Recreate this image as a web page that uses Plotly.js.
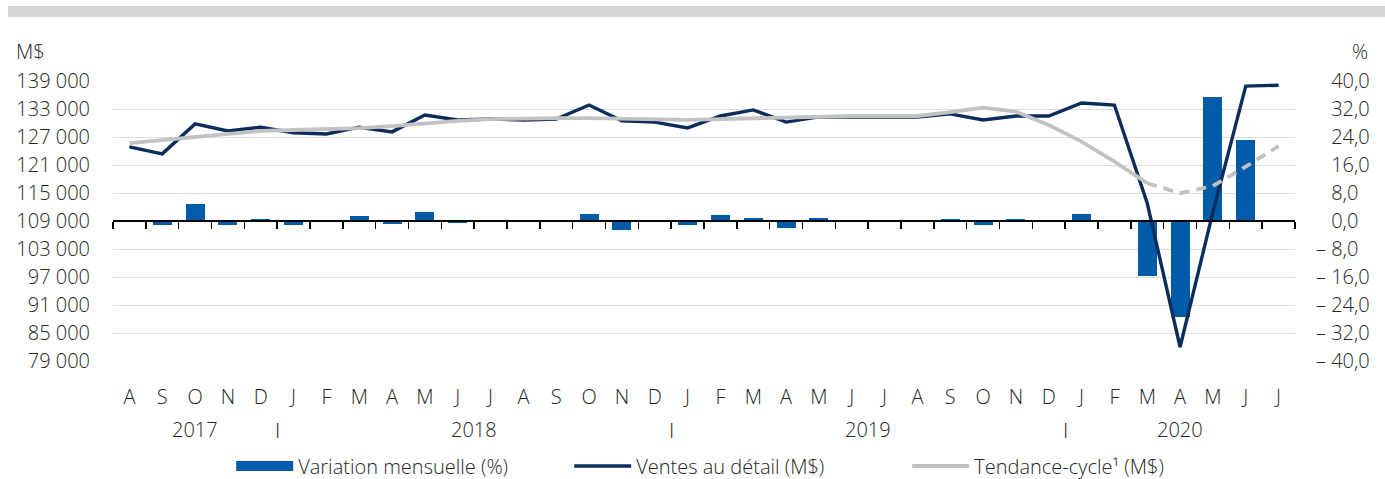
<!DOCTYPE html>
<html>
<head>
<meta charset="utf-8">
<script src="https://cdn.plot.ly/plotly-3.0.1.min.js"></script>
<style>html,body{margin:0;padding:0;background:#fff;}#chart{width:1385px;height:479px;}</style>
</head>
<body>
<div id="chart"></div>
<script>
// Month labels, Aug 2017 to Jul 2020
const months = ['A','S','O','N','D',
  'J','F','M','A','M','J','J','A','S','O','N','D',
  'J','F','M','A','M','J','J','A','S','O','N','D',
  'J','F','M','A','M','J','J'];

// Retail sales (M$)
const ventes = [124900,123400,129800,128300,129100,
  127900,127650,129100,128100,131700,130650,130850,130650,130850,133850,130450,130200,
  128950,131500,132800,130200,131300,131300,131300,131300,131950,130650,131500,131500,
  134300,133850,112800,82000,110900,137900,138100];

// Trend-cycle (M$); last points (from March 2020) are provisional (dashed)
const tendance = [125700,126350,127200,127850,128300,
  128500,128700,128900,129350,130000,130450,130850,131050,131050,131050,130850,130850,
  130650,130850,131050,131300,131300,131500,131500,131500,132350,133300,132450,129550,
  126000,121700,117100,114950,116500,120650,125050];
const firstProvisional = 31;

// Monthly change (%)
const variation = [null,-1.2,4.9,-1.1,0.7,
  -1.0,-0.1,1.3,-0.9,2.6,-0.7,0,0,0,2.1,-2.6,-0.2,
  -1.1,1.8,0.9,-2.0,0.8,0,0,0,0.6,-1.0,0.6,0,
  2.0,-0.2,-15.7,-27.5,35.4,23.1,0];

// Year groups
const years = ['2017','2018','2019','2020'];
const yearStart = [0,5,17,29];
const yearEnd = [4,16,28,35];

// Axis ticks
const leftTicks = [79000,85000,91000,97000,103000,109000,115000,121000,127000,133000,139000];
const rightTicks = [-40,-32,-24,-16,-8,0,8,16,24,32,40];

const idx = months.map((m,i)=>i);
const bounds = idx.map(i=>i-0.5).concat([months.length-0.5]);

const fmtLeft = v => String(v).replace(/\B(?=(\d{3})+(?!\d))/g,'\u00a0');
const fmtRight = v => v < 0 ? '\u2013\u00a0' + Math.abs(v).toFixed(1).replace('.',',')
                            : '\u2002\u00a0' + v.toFixed(1).replace('.',',');

const barColor = '#005ba8';
const navy = '#0c2d5c';
const grey = '#c2c2c2';

const traces = [
  {type:'bar', x:idx, y:variation, xaxis:'x', yaxis:'y', marker:{color:barColor}, width:0.58, showlegend:false, hoverinfo:'skip'},
  {type:'scatter', mode:'lines', x:[null], y:[null], xaxis:'x', yaxis:'y', name:'Variation mensuelle (%)', line:{color:barColor, width:16}},
  {type:'scatter', mode:'lines', x:idx, y:ventes, xaxis:'x', yaxis:'y2', name:'Ventes au détail (M$)', line:{color:navy, width:3.4}},
  {type:'scatter', mode:'lines', x:idx.slice(0,firstProvisional+1), y:tendance.slice(0,firstProvisional+1), xaxis:'x', yaxis:'y2', name:'Tendance-cycle¹ (M$)', line:{color:grey, width:3.8}},
  {type:'scatter', mode:'lines', x:idx.slice(firstProvisional), y:tendance.slice(firstProvisional), xaxis:'x', yaxis:'y2', showlegend:false, line:{color:grey, width:3.8, dash:'10px,7px'}},
  {type:'scatter', mode:'lines', x:[null], y:[null], xaxis:'x2', yaxis:'y', showlegend:false, hoverinfo:'skip'}
];

const annotations = [];
years.forEach((y,i)=>{
  annotations.push({text:y, xref:'x', yref:'paper', x:(yearStart[i]+yearEnd[i])/2, y:-0.246, showarrow:false, xanchor:'center', yanchor:'middle', font:{size:20}});
  if(i>0) annotations.push({text:'I', xref:'x', yref:'paper', x:yearStart[i]-0.5, y:-0.246, showarrow:false, xanchor:'center', yanchor:'middle', font:{size:21}});
});
annotations.push({text:'M$', xref:'paper', yref:'paper', x:-0.0838, y:1.1036, showarrow:false, xanchor:'left', yanchor:'middle', font:{size:20}});
annotations.push({text:'%', xref:'paper', yref:'paper', x:1.055, y:1.1036, showarrow:false, xanchor:'center', yanchor:'middle', font:{size:20}});

const layout = {
  width:1385, height:479,
  margin:{l:113, r:90, t:81, b:118, autoexpand:false},
  paper_bgcolor:'#fff', plot_bgcolor:'#fff',
  font:{family:'"Open Sans", "DejaVu Sans", sans-serif', size:20, color:'#262626', weight:300},
  hovermode:false,
  bargap:0,
  xaxis:{range:[-0.5, months.length-0.5], tickmode:'array', tickvals:idx, ticktext:months, showgrid:false, zeroline:false, showline:false, ticks:'', ticklabelstandoff:22, fixedrange:true, automargin:false},
  xaxis2:{overlaying:'x', anchor:'free', position:0.5, range:[-0.5, months.length-0.5], tickmode:'array', tickvals:bounds, showticklabels:false, ticks:'outside', ticklen:7, tickwidth:1.5, tickcolor:'#000', showline:true, linecolor:'#000', linewidth:2, showgrid:false, zeroline:false, automargin:false},
  yaxis:{side:'right', range:[-40,40], tickmode:'array', tickvals:rightTicks, ticktext:rightTicks.map(fmtRight), showgrid:true, gridcolor:'#dedede', gridwidth:1, zeroline:false, ticks:'', ticklabelstandoff:20, showline:false, automargin:false},
  yaxis2:{overlaying:'y', side:'left', range:[79000,139000], tickmode:'array', tickvals:leftTicks, ticktext:leftTicks.map(fmtLeft), showgrid:false, zeroline:false, ticks:'', ticklabelstandoff:22, showline:false, automargin:false},
  legend:{orientation:'h', x:0.1, xanchor:'left', y:-0.375, yanchor:'middle', itemwidth:57, entrywidth:266, font:{size:20}, traceorder:'normal', bgcolor:'rgba(0,0,0,0)'},
  shapes:[{type:'rect', xref:'paper', yref:'paper', x0:-0.0888, x1:1.08, y0:1.2286, y1:1.268, fillcolor:'#d4d5d5', line:{width:0}, layer:'above'}],
  annotations:annotations
};

Plotly.newPlot('chart', traces, layout, {staticPlot:true, displayModeBar:false});
</script>
</body>
</html>
